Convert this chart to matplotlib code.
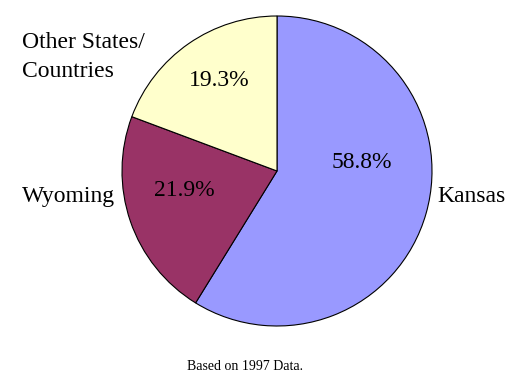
import matplotlib
matplotlib.use("Agg")
import matplotlib.pyplot as plt

# Data
categories = ["Kansas", "Wyoming", "Other States/\nCountries"]
shares = [58.8, 21.9, 19.3]
colors = ["#9999FF", "#993366", "#FFFFCC"]
note = "Based on 1997 Data."

plt.rcParams['font.family'] = ['Liberation Serif', 'DejaVu Serif']

fig = plt.figure(figsize=(5.18, 3.85), dpi=100)
ax = fig.add_axes([122/518, 59/385, 310/518, 310/385])

wedges, texts, autotexts = ax.pie(
    shares, labels=categories, colors=colors, startangle=90, counterclock=False,
    autopct=lambda p: f"{p:.1f}%",
    wedgeprops=dict(edgecolor="black", linewidth=0.8),
    textprops=dict(fontsize=17, color="black"),
)
ax.set_xlim(-1, 1)
ax.set_ylim(-1, 1)
ax.set_aspect('auto')

# label layout (positions in units of pie radius)
pct_pos = [(0.548, 0.052), (-0.595, -0.123), (-0.37, 0.587)]
for t, (x, y) in zip(autotexts, pct_pos):
    t.set_position((x, y))
    t.set_ha('center')
    t.set_va('center')

lab_pos = [((437-277)/155, (171-201.7)/155, 'left', 'baseline'),
           ((22-277)/155, (171-202)/155, 'left', 'baseline'),
           ((22-277)/155, (171-32)/155, 'left', 'top')]
for t, (x, y, ha, va) in zip(texts, lab_pos):
    t.set_position((x, y))
    t.set_ha(ha)
    t.set_va(va)
    t.set_linespacing(1.5)

fig.text(245/518, (385-370)/385, note, ha='center', va='baseline', fontsize=10)

fig.savefig("out.png", dpi=100)
